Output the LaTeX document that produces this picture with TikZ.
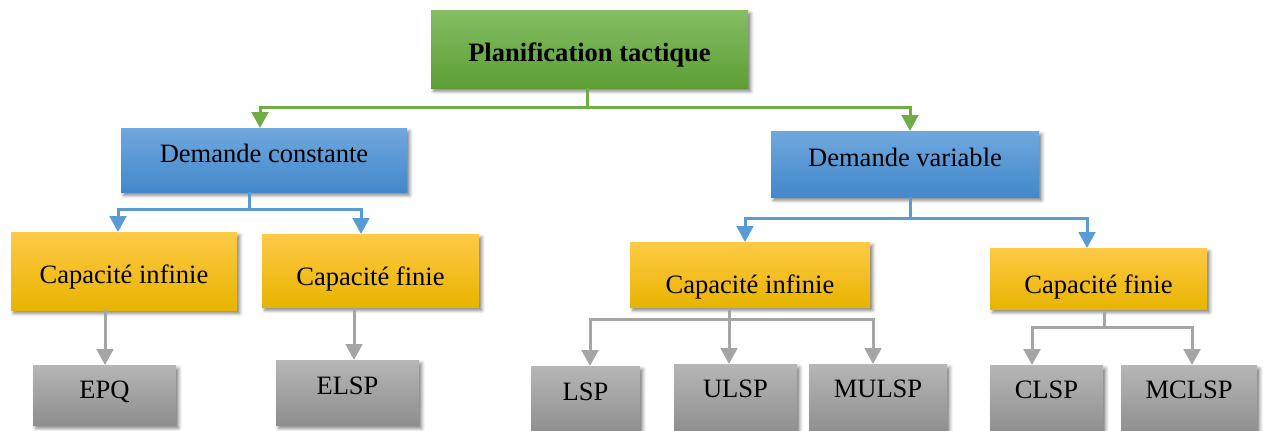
\documentclass[tikz,border=0pt]{standalone}
\usepackage{fontspec}
\setmainfont{Liberation Serif}
\usetikzlibrary{arrows.meta,shadows.blur}

\definecolor{gtop}{RGB}{132,190,100}
\definecolor{gbot}{RGB}{92,158,52}
\definecolor{btop}{RGB}{112,168,222}
\definecolor{bbot}{RGB}{66,136,202}
\definecolor{ytop}{RGB}{255,202,70}
\definecolor{ymid}{RGB}{255,192,0}
\definecolor{ybot}{RGB}{232,180,0}
\definecolor{ktop}{RGB}{182,182,182}
\definecolor{kbot}{RGB}{142,142,142}
\definecolor{gline}{RGB}{112,173,71}
\definecolor{bline}{RGB}{91,155,213}
\definecolor{kline}{RGB}{165,165,165}

\tikzset{
  box/.style={rectangle, inner sep=0pt, outer sep=0pt, draw=none,
    blur shadow={shadow xshift=2pt, shadow yshift=-2.5pt, shadow blur radius=2.5pt, shadow opacity=50}},
  greenbox/.style={box, top color=gtop, bottom color=gbot},
  bluebox/.style={box, top color=btop, bottom color=bbot},
  yellowbox/.style={box, top color=ytop, middle color=ymid, bottom color=ybot},
  graybox/.style={box, top color=ktop, bottom color=kbot},
  lbl/.style={inner sep=0pt, outer sep=0pt, anchor=base, font=\fontsize{19.9}{24}\selectfont},
  gconn/.style={draw=gline, line width=2.25pt},
  bconn/.style={draw=bline, line width=2.25pt},
  kconn/.style={draw=kline, line width=2.25pt},
  tipped/.style={-{Triangle[length=12pt,width=12.5pt]}}
}

\newcommand\mkbox[6]{\node[#2, minimum width={(#5-#3)*0.75pt}, minimum height={(#6-#4)*0.75pt}] (#1) at ({(#3+#5)/2},{(#4+#6)/2}) {};}

\begin{document}
\begin{tikzpicture}[x=0.75pt,y=-0.75pt]
\useasboundingbox (0,0) rectangle (1264,430);

% boxes
\mkbox{pt}{greenbox}{431}{10}{748}{88}
\mkbox{dc}{bluebox}{121}{128}{407}{192}
\mkbox{dv}{bluebox}{771}{131}{1039}{197}
\mkbox{ci1}{yellowbox}{11}{232}{237}{310}
\mkbox{cf1}{yellowbox}{262}{234}{479}{307}
\mkbox{ci2}{yellowbox}{630}{242}{870}{307}
\mkbox{cf2}{yellowbox}{990}{248}{1207}{309}
\mkbox{epq}{graybox}{33}{365}{176}{425}
\mkbox{elsp}{graybox}{276}{360}{419}{425}
\mkbox{lsp}{graybox}{531}{366}{640}{434}
\mkbox{ulsp}{graybox}{674}{364}{797}{434}
\mkbox{mulsp}{graybox}{809}{364}{947}{434}
\mkbox{clsp}{graybox}{990}{365}{1103}{434}
\mkbox{mclsp}{graybox}{1121}{365}{1257}{434}

% labels
\node[lbl] (tpt) at (589.5,61) {\bfseries Planification tactique};
\node[lbl] (tdc) at (264,162) {Demande constante};
\node[lbl] (tdv) at (905,166) {Demande variable};
\node[lbl] (tci1) at (124,283) {Capacité infinie};
\node[lbl] (tcf1) at (370.5,285) {Capacité finie};
\node[lbl] (tci2) at (750,293) {Capacité infinie};
\node[lbl] (tcf2) at (1098.5,293) {Capacité finie};
\node[lbl] (tepq) at (104.5,398) {EPQ};
\node[lbl] (telsp) at (347.5,394) {ELSP};
\node[lbl] (tlsp) at (585.5,400) {LSP};
\node[lbl] (tulsp) at (735.5,397) {ULSP};
\node[lbl] (tmulsp) at (878,397) {MULSP};
\node[lbl] (tclsp) at (1046.5,398) {CLSP};
\node[lbl] (tmclsp) at (1189,398) {MCLSP};

% junction coordinates
\coordinate (gj) at (587,107);
\coordinate (gl) at (260,107);
\coordinate (gr) at (910,107);
\coordinate (bj1) at (249,209);
\coordinate (bl1) at (118,209);
\coordinate (br1) at (361,209);
\coordinate (bj2) at (910,218);
\coordinate (bl2) at (745,218);
\coordinate (br2) at (1087,218);
\coordinate (k1) at (105,310);
\coordinate (k2) at (354,307);
\coordinate (kj3) at (729,319);
\coordinate (kl3) at (590,319);
\coordinate (kr3) at (873,319);
\coordinate (kj4) at (1104,327);
\coordinate (kl4) at (1032,327);
\coordinate (kr4) at (1192,327);

% green connectors
\draw[gconn] (gj |- pt.south) -- (gj);
\draw[gconn,tipped] (gj) -| (dc.north -| gl);
\draw[gconn,tipped] (gj) -| (dv.north -| gr);

% blue connectors
\draw[bconn] (bj1 |- dc.south) -- (bj1);
\draw[bconn,tipped] (bj1) -| (ci1.north -| bl1);
\draw[bconn,tipped] (bj1) -| (cf1.north -| br1);
\draw[bconn] (bj2 |- dv.south) -- (bj2);
\draw[bconn,tipped] (bj2) -| (ci2.north -| bl2);
\draw[bconn,tipped] (bj2) -| (cf2.north -| br2);

% gray connectors
\draw[kconn,tipped] (ci1.south -| k1) -- (epq.north -| k1);
\draw[kconn,tipped] (cf1.south -| k2) -- (elsp.north -| k2);
\draw[kconn] (kj3 |- ci2.south) -- (kj3);
\draw[kconn,tipped] (kj3) -| (lsp.north -| kl3);
\draw[kconn,tipped] (kj3) -- (ulsp.north -| kj3);
\draw[kconn,tipped] (kj3) -| (mulsp.north -| kr3);
\draw[kconn] (kj4 |- cf2.south) -- (kj4);
\draw[kconn,tipped] (kj4) -| (clsp.north -| kl4);
\draw[kconn,tipped] (kj4) -| (mclsp.north -| kr4);
\end{tikzpicture}
\end{document}
